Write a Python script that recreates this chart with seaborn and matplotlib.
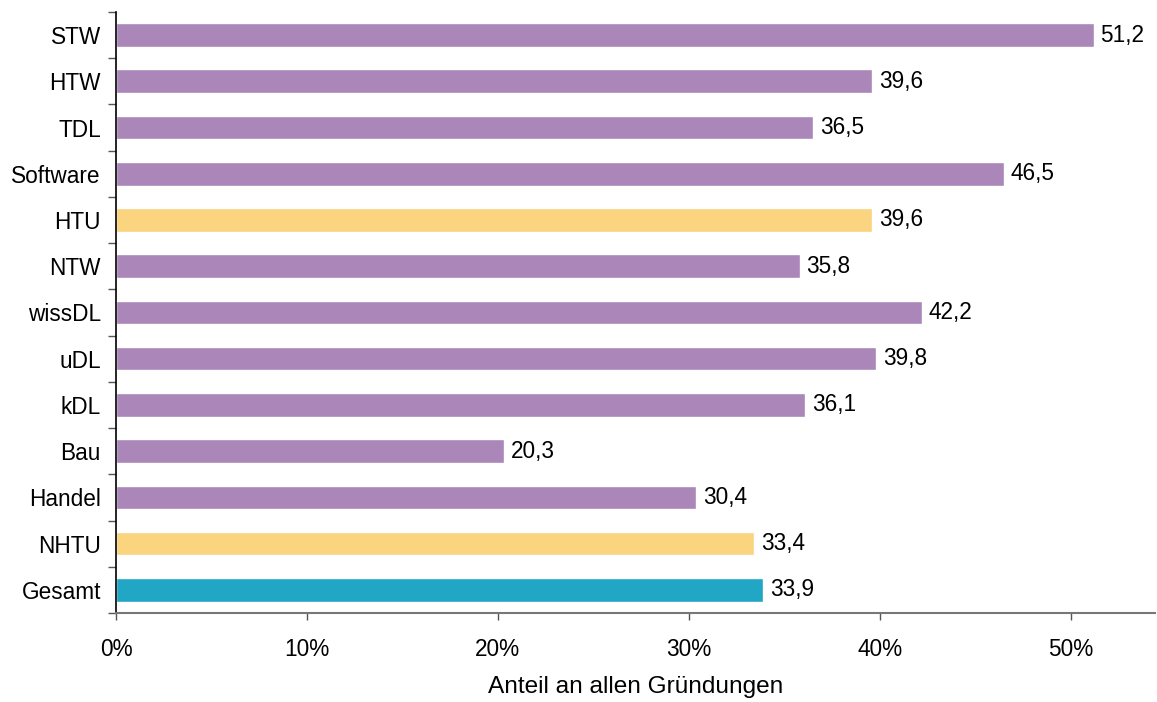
import matplotlib
matplotlib.use("Agg")
import matplotlib.pyplot as plt
import seaborn as sns
import pandas as pd
import numpy as np
from matplotlib.ticker import FixedLocator, FuncFormatter

categories = ["STW", "HTW", "TDL", "Software", "HTU", "NTW", "wissDL",
              "uDL", "kDL", "Bau", "Handel", "NHTU", "Gesamt"]
values = [51.2, 39.6, 36.5, 46.5, 39.6, 35.8, 42.2, 39.8, 36.1, 20.3, 30.4, 33.4, 33.9]
groups = ["Branche", "Branche", "Branche", "Branche", "Aggregat", "Branche", "Branche",
          "Branche", "Branche", "Branche", "Branche", "Aggregat", "Gesamt"]
group_colors = {"Branche": "#AA86B9", "Aggregat": "#FAD47E", "Gesamt": "#21A7C5"}
x_ticks = [0, 10, 20, 30, 40, 50]

df = pd.DataFrame({"Kategorie": categories, "Anteil": values, "Gruppe": groups})

sns.set_style("white")
plt.rcParams["font.family"] = ["Liberation Sans", "DejaVu Sans"]
plt.rcParams["text.color"] = "black"
plt.rcParams["xtick.color"] = "black"
plt.rcParams["ytick.color"] = "black"
plt.rcParams["axes.labelcolor"] = "black"

FS = 16.3

fig = plt.figure(figsize=(11.57, 7.02), dpi=100)
ax = fig.add_axes([0.1003, 0.1268, 0.8977, 0.8562])

sns.barplot(data=df, y="Kategorie", x="Anteil", hue="Gruppe", palette=group_colors,
            order=categories, orient="h", width=0.51, dodge=False, legend=False,
            saturation=1, ax=ax)

for cont in ax.containers:
    labels = [f"{v:.1f}".replace(".", ",") if v == v else "" for v in cont.datavalues]
    ax.bar_label(cont, labels=labels, padding=5, fontsize=FS, color="black")

ax.set_xlim(0, 54.4)
ax.set_ylim(len(categories) - 0.5, -0.5)
ax.set_xticks(x_ticks)
ax.xaxis.set_major_formatter(FuncFormatter(lambda v, p: f"{v:.0f}%"))
ax.tick_params(axis="x", which="major", length=5, width=1, color="#555555",
               labelsize=FS, labelcolor="black", pad=13, direction="out", bottom=True)

# category labels centred on bars, tick marks between them
ax.tick_params(axis="y", which="major", length=0, labelsize=FS, labelcolor="black", pad=11)
ax.yaxis.set_minor_locator(FixedLocator(np.arange(-0.5, len(categories), 1.0)))
ax.tick_params(axis="y", which="minor", length=6, width=1, color="#555555", left=True)

ax.set_xlabel("Anteil an allen Gründungen", fontsize=17.6, labelpad=11, color="black")
ax.set_ylabel("")

for side in ["top", "right"]:
    ax.spines[side].set_visible(False)
ax.spines["left"].set_color("black")
ax.spines["left"].set_linewidth(1.2)
ax.spines["bottom"].set_color("#777777")
ax.spines["bottom"].set_linewidth(1.5)

fig.savefig("out.png", dpi=100)
